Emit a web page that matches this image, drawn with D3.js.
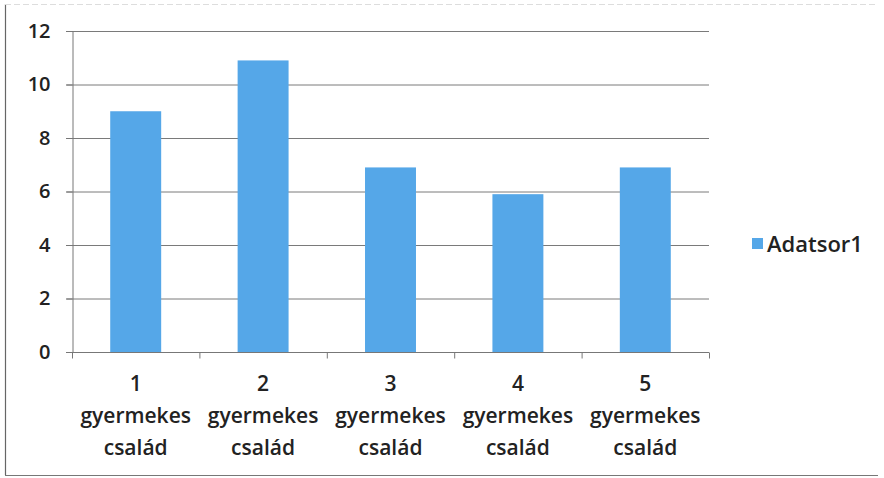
<!DOCTYPE html>
<html>
<head>
<meta charset="utf-8">
<script src="https://cdn.jsdelivr.net/npm/d3@7"></script>
<style>
  body { margin: 0; background: #fff; }
  svg text { font-family: "Open Sans", "Noto Sans", sans-serif; fill: #222; font-weight: 600; }
</style>
</head>
<body>
<div class="root"></div>
<script>
// chart data
var categories = ['1', '2', '3', '4', '5'];
var catSuffix = ['gyermekes', 'család'];
var values = [9, 10.9, 6.9, 5.9, 6.9];
var yTicks = [0, 2, 4, 6, 8, 10, 12];
var seriesName = 'Adatsor1';

function drawChart() {
  var w = 884, h = 478;
  var left = 72, right = 709, top = 31, bottom = 352;

  var svg = d3.select('.root').append('svg')
    .attr('width', w)
    .attr('height', h);

  // scanned frame
  svg.append('line')
    .attr('x1', 5.5).attr('x2', 5.5).attr('y1', 4).attr('y2', 475)
    .style('stroke', '#666').style('stroke-width', 1.2);
  svg.append('line')
    .attr('x1', 5).attr('x2', 878).attr('y1', 475.5).attr('y2', 475.5)
    .style('stroke', '#777').style('stroke-width', 1.2);
  svg.append('line')
    .attr('x1', 5).attr('x2', 878).attr('y1', 4.5).attr('y2', 4.5)
    .style('stroke', '#ddd').style('stroke-width', 1)
    .style('stroke-dasharray', '6,3');

  var x = d3.scaleBand()
    .domain(categories)
    .range([left, right])
    .padding(0);

  var y = d3.scaleLinear()
    .domain([0, 12])
    .range([bottom, top]);

  // gridlines
  svg.append('g')
    .selectAll('line')
    .data(yTicks.filter(function(d) { return d > 0; }))
    .enter().append('line')
      .attr('x1', left - 6)
      .attr('x2', right)
      .attr('y1', function(d) { return y(d) + 0.5; })
      .attr('y2', function(d) { return y(d) + 0.5; })
      .style('stroke', '#7a7a7a')
      .style('stroke-width', 1);

  // bars
  var barW = x.bandwidth() * 0.4;
  svg.append('g')
    .selectAll('rect')
    .data(values)
    .enter().append('rect')
      .attr('x', function(d, i) { return x(categories[i]) + (x.bandwidth() - barW) / 2; })
      .attr('y', function(d) { return y(d); })
      .attr('width', barW)
      .attr('height', function(d) { return y(0) - y(d); })
      .style('fill', '#55a7e8');

  // y axis
  var yAxis = svg.append('g')
    .attr('transform', 'translate(' + (left + 0.5) + ',0)')
    .call(d3.axisLeft(y).tickValues(yTicks).tickSize(6).tickPadding(16));
  yAxis.select('.domain').style('stroke', '#777');
  yAxis.selectAll('.tick line').style('stroke', '#777');
  yAxis.selectAll('.tick text')
    .style('font-size', '20px')
    .style('font-family', '"Open Sans", sans-serif')
    .style('font-weight', 600)
    .style('fill', '#222');

  // x axis
  var xAxis = svg.append('g')
    .attr('transform', 'translate(0,' + (bottom + 0.5) + ')');
  xAxis.append('line')
    .attr('x1', left - 6).attr('x2', right)
    .style('stroke', '#777');
  var bounds = categories.map(function(c) { return x(c); }).concat([right]);
  xAxis.selectAll('.xt')
    .data(bounds)
    .enter().append('line')
      .attr('x1', function(d) { return d + 0.5; })
      .attr('x2', function(d) { return d + 0.5; })
      .attr('y1', 0).attr('y2', 6)
      .style('stroke', '#777');

  var labels = svg.append('g')
    .selectAll('text')
    .data(categories)
    .enter().append('text')
      .attr('text-anchor', 'middle')
      .style('font-size', '21px');
  labels.append('tspan')
    .attr('x', function(d) { return x(d) + x.bandwidth() / 2; })
    .attr('y', 391)
    .text(function(d) { return d; });
  labels.append('tspan')
    .attr('x', function(d) { return x(d) + x.bandwidth() / 2; })
    .attr('y', 423)
    .text(catSuffix[0]);
  labels.append('tspan')
    .attr('x', function(d) { return x(d) + x.bandwidth() / 2; })
    .attr('y', 455)
    .text(catSuffix[1]);

  // legend
  var legend = svg.append('g')
    .attr('transform', 'translate(752,238)');
  legend.append('rect')
    .attr('width', 11)
    .attr('height', 11)
    .style('fill', '#55a7e8');
  legend.append('text')
    .attr('x', 15)
    .attr('y', 14)
    .style('font-size', '22px')
    .text(seriesName);
}

window.onload = function() {
  drawChart();
};
</script>
</body>
</html>
